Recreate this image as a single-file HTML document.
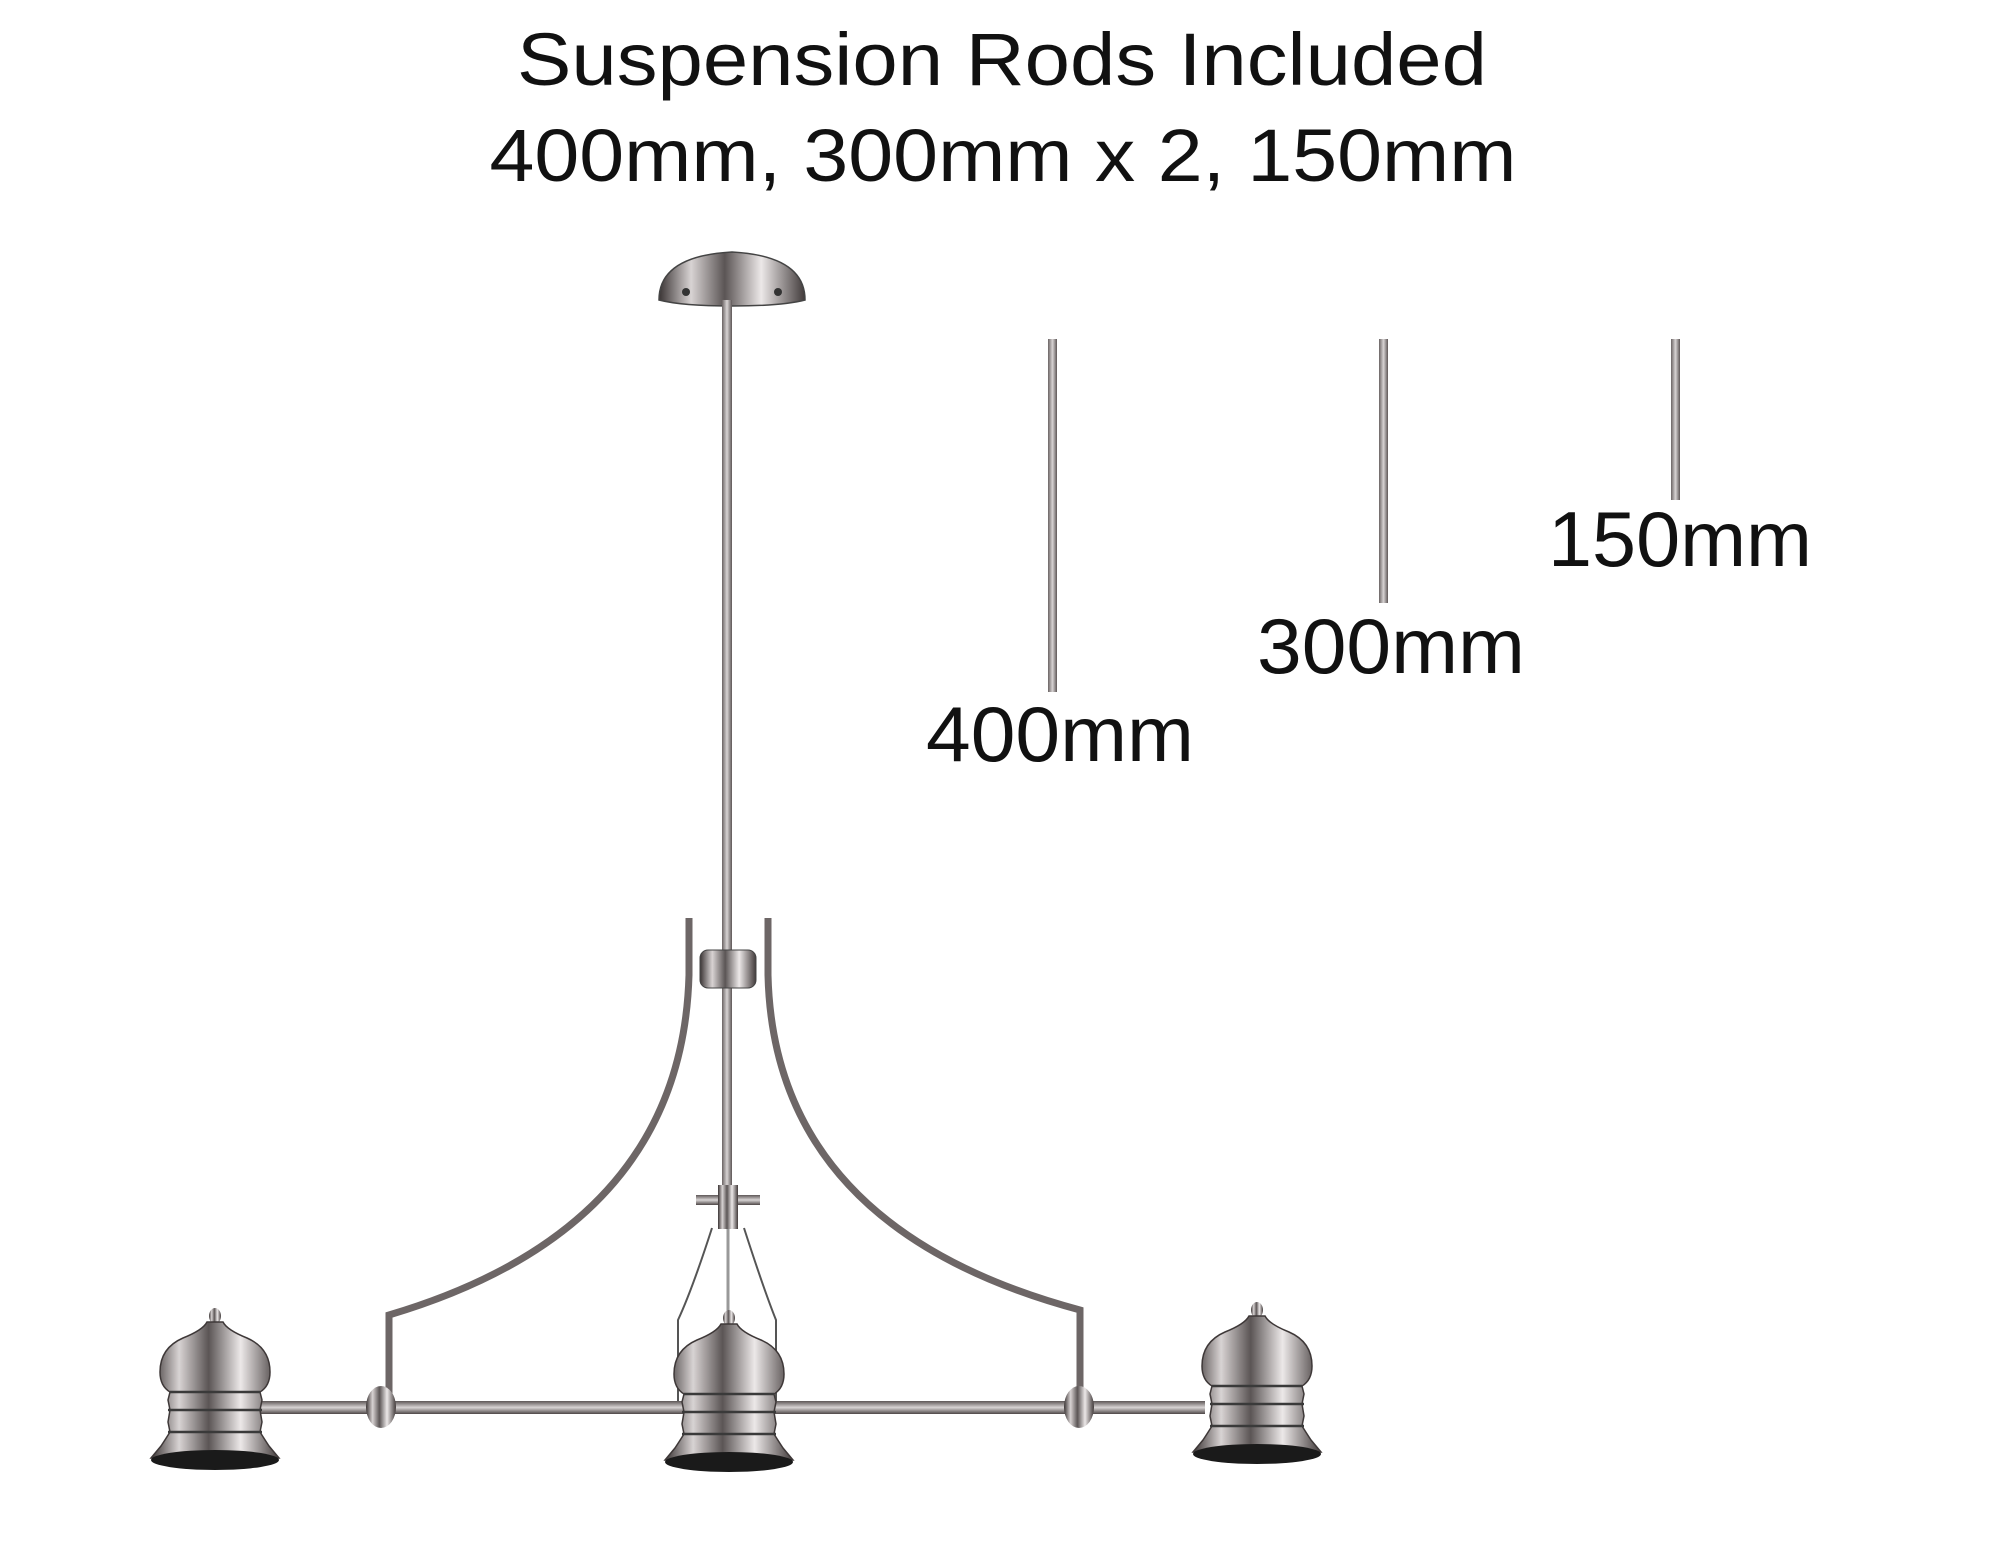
<!DOCTYPE html>
<html><head><meta charset="utf-8"><style>
html,body{margin:0;padding:0;background:#fff;}
svg{display:block;}
text{font-family:"Liberation Sans",sans-serif;fill:#111;}
</style></head><body>
<svg width="2000" height="1559" viewBox="0 0 2000 1559" xmlns="http://www.w3.org/2000/svg">
<defs>
<linearGradient id="m" x1="0" x2="1" y1="0" y2="0">
<stop offset="0" stop-color="#3a3434"/><stop offset="0.22" stop-color="#d8d3d3"/><stop offset="0.45" stop-color="#5b5555"/><stop offset="0.7" stop-color="#ece8e8"/><stop offset="1" stop-color="#413a3a"/>
</linearGradient>
<linearGradient id="r" x1="0" x2="1" y1="0" y2="0">
<stop offset="0" stop-color="#6a6363"/><stop offset="0.5" stop-color="#d8d4d4"/><stop offset="1" stop-color="#5d5656"/>
</linearGradient>
<linearGradient id="h" x1="0" x2="0" y1="0" y2="1">
<stop offset="0" stop-color="#5d5656"/><stop offset="0.5" stop-color="#d8d4d4"/><stop offset="1" stop-color="#4d4646"/>
</linearGradient>
<g id="shade">
<ellipse cx="0" cy="6" rx="6" ry="8" fill="url(#m)"/>
<path d="M-8,12 Q-12,20 -32,28 Q-55,38 -55,62 Q-55,76 -45,82 L-47,90 L-45,100 L-47,112 L-45,122 Q-50,130 -54,136 L-64,148 L64,148 L54,136 Q50,130 45,122 L47,112 L45,100 L47,90 L45,82 Q55,76 55,62 Q55,38 32,28 Q12,20 8,12 Z" fill="url(#m)" stroke="#3e3838" stroke-width="1.5"/>
<line x1="-45" y1="82" x2="45" y2="82" stroke="#3a3a3a" stroke-width="2.5"/>
<line x1="-47" y1="100" x2="47" y2="100" stroke="#3a3a3a" stroke-width="2.5"/>
<line x1="-47" y1="122" x2="47" y2="122" stroke="#3a3a3a" stroke-width="2.5"/>
<ellipse cx="0" cy="150" rx="64" ry="10" fill="#1a1a1a"/>
</g>
</defs>

<text x="1002" y="85" font-size="74" text-anchor="middle" textLength="970" lengthAdjust="spacingAndGlyphs">Suspension Rods Included</text>
<text x="1003" y="181" font-size="74" text-anchor="middle" textLength="1027" lengthAdjust="spacingAndGlyphs">400mm, 300mm x 2, 150mm</text>

<!-- loose rods -->
<rect x="1048" y="339" width="9" height="353" fill="url(#r)"/>
<rect x="1379" y="339" width="9" height="264" fill="url(#r)"/>
<rect x="1671" y="339" width="9" height="161" fill="url(#r)"/>
<text x="1060" y="761" font-size="78" text-anchor="middle" textLength="268" lengthAdjust="spacingAndGlyphs">400mm</text>
<text x="1391" y="673" font-size="78" text-anchor="middle" textLength="268" lengthAdjust="spacingAndGlyphs">300mm</text>
<text x="1680" y="566" font-size="78" text-anchor="middle" textLength="264" lengthAdjust="spacingAndGlyphs">150mm</text>

<!-- canopy -->
<path d="M659,300 Q659,256 732,252 Q805,256 805,300 Q782,306 732,306 Q682,306 659,300 Z" fill="url(#m)" stroke="#444" stroke-width="1.5"/>
<circle cx="686" cy="292" r="4" fill="#333"/><circle cx="778" cy="292" r="4" fill="#333"/>
<!-- main rod -->
<rect x="722" y="300" width="10" height="920" fill="url(#r)"/>
<!-- arms -->
<path d="M689,918 L689,975 Q682,1228 389,1315 L389,1397" fill="none" stroke="#6d6666" stroke-width="7"/>
<path d="M768,918 L768,975 Q774,1228 1080,1310 L1080,1397" fill="none" stroke="#6d6666" stroke-width="7"/>
<rect x="700" y="950" width="56" height="38" rx="8" fill="url(#m)" stroke="#444" stroke-width="1"/>
<!-- lower hub -->
<rect x="696" y="1195" width="64" height="10" fill="url(#h)"/>
<rect x="718" y="1185" width="20" height="44" fill="url(#m)"/>
<path d="M712,1228 Q692,1290 678,1320 L678,1412 M744,1228 Q764,1290 776,1320 L776,1412" fill="none" stroke="#555" stroke-width="2"/>
<line x1="728" y1="1229" x2="728" y2="1318" stroke="#999" stroke-width="3"/>
<!-- bar -->
<rect x="238" y="1401" width="967" height="13" fill="url(#h)"/>
<ellipse cx="381" cy="1407" rx="15" ry="21" fill="url(#m)"/>
<ellipse cx="1079" cy="1407" rx="15" ry="21" fill="url(#m)"/>
<!-- shades -->
<use href="#shade" x="215" y="1310"/>
<use href="#shade" x="729" y="1312"/>
<use href="#shade" x="1257" y="1304"/>
</svg>
</body></html>
